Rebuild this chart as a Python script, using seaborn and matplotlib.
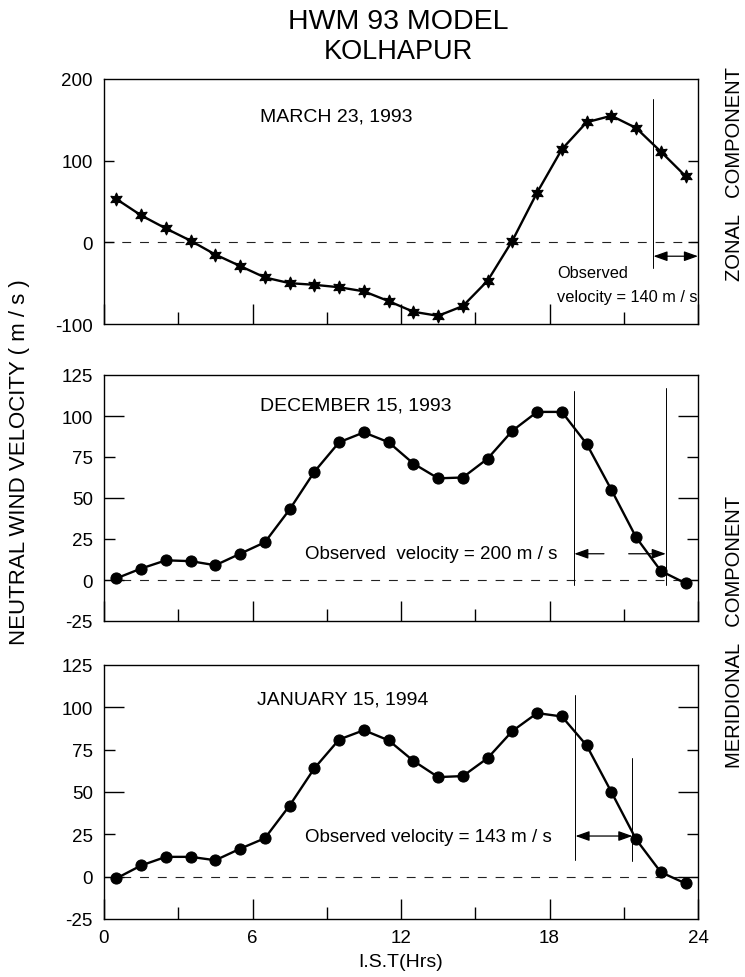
import numpy as np
import pandas as pd
import matplotlib
matplotlib.use("Agg")
import matplotlib.pyplot as plt
import seaborn as sns

# ================================================================
hours = [h + 0.5 for h in range(24)]

zonal_mar93 = [53, 33, 17, 2, -15, -29, -43, -50, -52, -55, -60, -72,
               -85, -90, -78, -47, 2, 61, 114, 147, 155, 140, 111, 81]
merid_dec93 = [1, 7, 12, 11.5, 9, 16, 23, 43, 66, 84, 90, 84,
               71, 62, 62.5, 74, 91, 102.5, 102.5, 83, 55, 26, 5.5, -2]
merid_jan94 = [-1, 6.6, 11.7, 11.7, 9.7, 16.5, 22.7, 42, 64, 81, 86.5, 80.5,
               68.4, 58.8, 59.4, 70, 86, 96.6, 94.6, 77.5, 50, 22, 2.6, -4]

panel_titles = ["MARCH 23, 1993", "DECEMBER 15, 1993", "JANUARY 15, 1994"]
x_ticks = [0, 6, 12, 18, 24]
x_minor = [3, 9, 15, 21]
# ================================================================

df = pd.DataFrame({"hour": hours, "mar93": zonal_mar93,
                   "dec93": merid_dec93, "jan94": merid_jan94})

sns.set_theme(style="white")
plt.rcParams["font.family"] = ["Liberation Sans", "DejaVu Sans"]
plt.rcParams["axes.unicode_minus"] = False
plt.rcParams["text.color"] = "black"
plt.rcParams["axes.labelcolor"] = "black"
plt.rcParams["xtick.color"] = "black"
plt.rcParams["ytick.color"] = "black"

fig = plt.figure(figsize=(7.45, 9.78), dpi=100)
left, width = 104 / 745, 594 / 745
ax_top = fig.add_axes((left, 1 - 325 / 978, width, 245 / 978))
ax_mid = fig.add_axes((left, 1 - 622 / 978, width, 246 / 978))
ax_bot = fig.add_axes((left, 1 - 920 / 978, width, 254 / 978))

line_kw = dict(color="black", lw=1.7, markeredgecolor="black", markerfacecolor="black")
sns.lineplot(ax=ax_top, data=df, x="hour", y="mar93", marker=(6, 1, 0), markersize=9.5, **line_kw)
sns.lineplot(ax=ax_mid, data=df, x="hour", y="dec93", marker="o", markersize=8, **line_kw)
sns.lineplot(ax=ax_bot, data=df, x="hour", y="jan94", marker="o", markersize=8, **line_kw)

# y scales and ticks (length per tick in points)
yspec = [
    (ax_top, (-100, 200), [-100, 0, 100, 200], [0, 7.2, 7.2, 0]),
    (ax_mid, (-25, 125), [-25, 0, 25, 50, 75, 100, 125], [0, 14.4, 7.9, 14.4, 7.9, 14.4, 0]),
    (ax_bot, (-25, 125), [-25, 0, 25, 50, 75, 100, 125], [0, 14.4, 7.9, 14.4, 7.9, 14.4, 0]),
]
for ax, lim, yt, ylen in yspec:
    ax.set_xlim(0, 24)
    ax.set_ylim(*lim)
    ax.set_yticks(yt)
    ax.set_yticklabels([str(v) for v in yt])
    ax.set_xticks(x_ticks)
    ax.set_xticks(x_minor, minor=True)
    ax.tick_params(axis="y", direction="in", left=True, right=True, pad=8,
                   labelsize=13.5, width=1, color="black", labelcolor="black")
    ax.tick_params(axis="x", which="major", direction="in", bottom=True, top=False,
                   length=14.4, width=1, pad=7, labelsize=13.5, color="black",
                   labelcolor="black")
    ax.tick_params(axis="x", which="minor", direction="in", bottom=True, top=False,
                   length=8.6, width=1, color="black")
    for t, L in zip(ax.yaxis.get_major_ticks(), ylen):
        t.tick1line.set_markersize(L)
        t.tick2line.set_markersize(L)
    for s in ax.spines.values():
        s.set_color("black")
        s.set_linewidth(1.0)
    ax.axhline(0, color="#222222", lw=0.8, ls=(0, (8, 8)), zorder=0)
    ax.set_ylabel("")
    ax.set_xlabel("")
    ax.set_facecolor("white")

ax_top.tick_params(axis="x", labelbottom=False)
ax_mid.tick_params(axis="x", labelbottom=False)
ax_bot.set_xlabel("I.S.T(Hrs)", fontsize=14, labelpad=5, color="black")

# panel titles
ax_top.text(6.3, 155, panel_titles[0], fontsize=14, va="center", ha="left")
ax_mid.text(6.3, 107, panel_titles[1], fontsize=14, va="center", ha="left")
ax_bot.text(6.2, 105, panel_titles[2], fontsize=14, va="center", ha="left")

arrow = dict(arrowstyle="-|>,head_length=0.7,head_width=0.25", color="black", lw=0.9,
             shrinkA=0, shrinkB=0)
arrow2 = dict(arrowstyle="<|-|>,head_length=0.7,head_width=0.25", color="black", lw=0.9,
              shrinkA=0, shrinkB=0)

# top: observed velocity
ax_top.plot([22.2, 22.2], [175, -32], color="black", lw=0.7)
ax_top.annotate("", xy=(24, -17), xytext=(22.2, -17), arrowprops=arrow2)
ax_top.text(18.3, -37, "Observed", fontsize=11.8, va="center", ha="left")
ax_top.text(18.3, -66, "velocity = 140 m / s", fontsize=11.8, va="center", ha="left")

# middle
ax_mid.plot([19.0, 19.0], [115, -3], color="black", lw=0.7)
ax_mid.plot([22.7, 22.7], [117, -3], color="black", lw=0.7)
ax_mid.annotate("", xy=(19.0, 16), xytext=(20.2, 16), arrowprops=arrow)
ax_mid.annotate("", xy=(22.7, 16), xytext=(21.2, 16), arrowprops=arrow)
ax_mid.text(18.3, 16, "Observed  velocity = 200 m / s", fontsize=13.5, va="center", ha="right")

# bottom
ax_bot.plot([19.05, 19.05], [107, 10], color="black", lw=0.7)
ax_bot.plot([21.35, 21.35], [70, 9], color="black", lw=0.7)
ax_bot.annotate("", xy=(21.35, 24), xytext=(19.05, 24), arrowprops=arrow2)
ax_bot.text(18.1, 24, "Observed velocity = 143 m / s", fontsize=13.5, va="center", ha="right")

# figure texts
fig.text(398 / 745, 1 - 22 / 978, "HWM 93 MODEL", fontsize=20.5, ha="center", va="center")
fig.text(398 / 745, 1 - 52 / 978, "KOLHAPUR", fontsize=19.5, ha="center", va="center")
fig.text(20 / 745, 1 - 462 / 978, "NEUTRAL WIND VELOCITY ( m / s )", fontsize=16,
         rotation=90, ha="center", va="center")
fig.text(735 / 745, 1 - 174 / 978, "ZONAL   COMPONENT", fontsize=14.5,
         rotation=90, ha="center", va="center")
fig.text(735 / 745, 1 - 632 / 978, "MERIDIONAL   COMPONENT", fontsize=14.5,
         rotation=90, ha="center", va="center")

fig.savefig("out.png", dpi=100, facecolor="white")
